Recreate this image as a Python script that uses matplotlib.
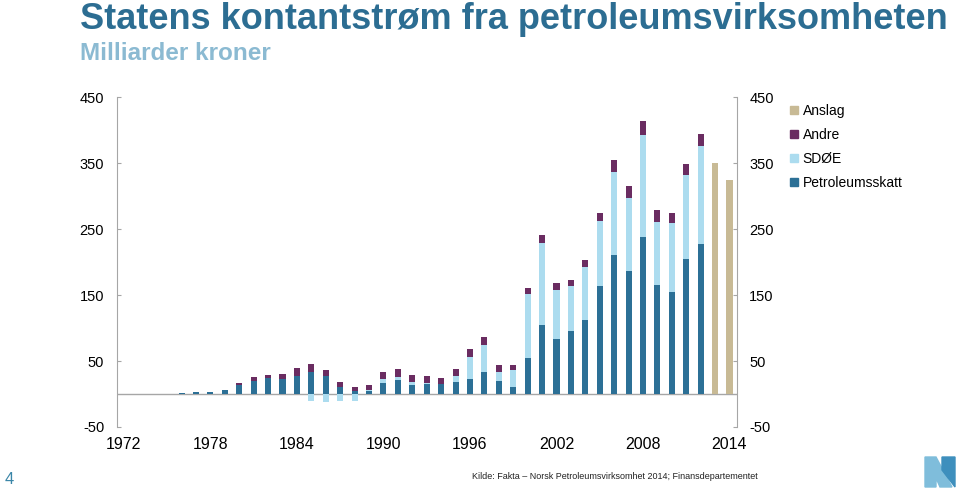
import numpy as np
import matplotlib
matplotlib.use('Agg')
import matplotlib.pyplot as plt
from matplotlib.patches import Patch, Polygon

plt.rcParams['font.family'] = ['Liberation Sans', 'DejaVu Sans']
plt.rcParams['axes.unicode_minus'] = False

# data (milliarder kroner)
years = list(range(1976, 2013))
skatt = [1.5, 2.4, 3, 6, 14, 20, 24, 22, 28, 34, 27, 10, 5, 5, 17, 21, 14, 15.5, 14.5, 18,
         22, 34, 19, 10.6, 54, 105, 84, 96, 112.5, 164, 211, 186, 238.5, 164.5, 155, 205, 227.5]
sdoe = [0, 0, 0, 0, 0, 0, 0, 0, 0, -10, -12, -11, -10, 1, 6.5, 5.5, 4, 0.5, 0, 9,
        34, 40, 14, 26, 97.5, 124.5, 74, 67, 80.5, 98.5, 125.5, 111.5, 154, 95.5, 103.5, 127, 149]
andre = [0, 0, 0, 0, 3, 6, 5.5, 8, 11, 12, 9, 8, 6, 7, 10, 11.5, 11.5, 11.5, 10, 11,
         12.5, 12, 11.5, 7.5, 8.5, 12, 10.5, 10, 10.5, 12, 17.5, 18.5, 22, 19, 16.5, 17, 18]
anslag_years = [2013, 2014]
anslag = [349.5, 325]

tick_years = [1972, 1978, 1984, 1990, 1996, 2002, 2008, 2014]
labels = ['Anslag', 'Andre', 'SDØE', 'Petroleumsskatt']

c_skatt = '#2c7096'
c_sdoe = '#acdcef'
c_andre = '#6a2c61'
c_anslag = '#c8ba95'
c_axis = '#a6a6a6'

skatt_a = np.array(skatt)
sdoe_a = np.array(sdoe)
andre_a = np.array(andre)

fig = plt.figure(figsize=(9.59, 4.88), dpi=100)
ax = fig.add_axes([0.1217, 0.125, 0.6465, 0.676])

w = 0.42
ax.bar(years, skatt_a, w, color=c_skatt, zorder=2)
sdoe_bottom = np.where(sdoe_a >= 0, skatt_a, 0)
ax.bar(years, sdoe_a, w, bottom=sdoe_bottom, color=c_sdoe, zorder=2)
ax.bar(years, andre_a, w, bottom=skatt_a + np.clip(sdoe_a, 0, None), color=c_andre, zorder=2)
ax.bar(anslag_years, anslag, w, color=c_anslag, zorder=2)

ax.axhline(0, color=c_axis, lw=1, zorder=1)

ax.set_xlim(1971.5, 2014.5)
ax.set_ylim(-50, 450)
ax.set_yticks(np.arange(-50, 451, 100))
ax.set_xticks(tick_years)
ax.tick_params(axis='x', length=0, labelsize=11.5, pad=7)
ax.tick_params(axis='y', direction='in', length=3, color=c_axis, left=True, right=True,
               labelleft=True, labelright=True, labelsize=10.5, pad=9)
for s in ['top', 'bottom']:
    ax.spines[s].set_visible(False)
for s in ['left', 'right']:
    ax.spines[s].set_color(c_axis)

handles = [Patch(color=c) for c in [c_anslag, c_andre, c_sdoe, c_skatt]]
fig.legend(handles, labels, loc='upper left', bbox_to_anchor=(790 / 959, 1 - 104 / 488),
           frameon=False, fontsize=10, handlelength=0.55, handleheight=0.55,
           handletextpad=0.35, labelspacing=0.72, borderaxespad=0, borderpad=0)

fig.text(80 / 959, 1 - 29 / 488, 'Statens kontantstrøm fra petroleumsvirksomheten',
         fontsize=26, fontweight='bold', color='#2c6d92', va='baseline')
fig.text(80 / 959, 1 - 60 / 488, 'Milliarder kroner', fontsize=17.5, fontweight='bold',
         color='#8bbad2', va='baseline')

fig.text(5 / 959, 1 - 484 / 488, '4', fontsize=12, color='#3a86a8', va='baseline')
fig.text(472 / 959, 1 - 479 / 488,
         'Kilde: Fakta – Norsk Petroleumsvirksomhet 2014; Finansdepartementet',
         fontsize=6.5, color='#222222', va='baseline')

# logo
lx = lambda x: x / 959
ly = lambda y: 1 - y / 488
fig.patches.append(Polygon([(lx(925), ly(457)), (lx(936), ly(457)), (lx(952), ly(487)),
                            (lx(940), ly(487)), (lx(936), ly(478)), (lx(936), ly(487)),
                            (lx(925), ly(487))], closed=True, transform=fig.transFigure,
                           color='#7fbddb', zorder=5))
fig.patches.append(Polygon([(lx(942), ly(457)), (lx(955), ly(457)), (lx(955), ly(487)),
                            (lx(942), ly(470))], closed=True, transform=fig.transFigure,
                           color='#3e8fbd', zorder=5))

fig.savefig('out.png', dpi=100)
